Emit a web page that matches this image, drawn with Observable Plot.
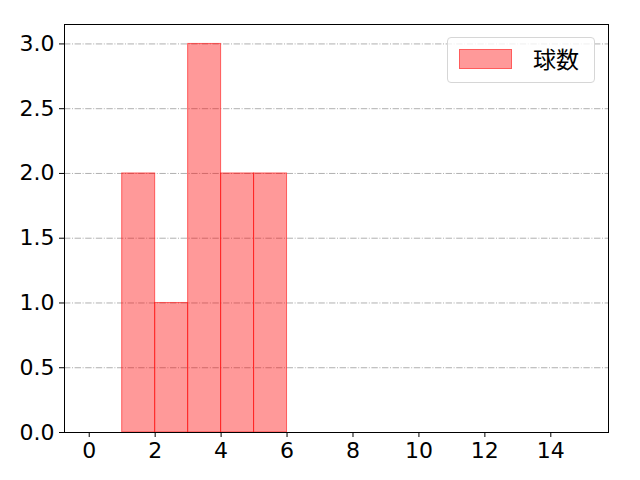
<!DOCTYPE html>
<html>
<head>
<meta charset="utf-8">
<script src="https://cdn.jsdelivr.net/npm/d3@7"></script>
<script src="https://cdn.jsdelivr.net/npm/@observablehq/plot@0.6"></script>
<style>
  html, body { margin: 0; padding: 0; background: #fff; }
  #wrap { position: relative; width: 640px; height: 480px; }
  #legend {
    position: absolute; left: 447px; top: 37px; width: 148px; height: 46px;
    border: 1px solid #d6d6d6; border-radius: 4px; background: rgba(255,255,255,0.8);
    box-sizing: border-box; font-family: "Noto Sans CJK JP", sans-serif; font-size: 23px;
  }
  #legend .sw { position: absolute; left: 11px; top: 11px; width: 53px; height: 20px;
    background: rgba(255,0,0,0.4); border: 1px solid rgba(255,0,0,0.4); box-sizing: border-box; }
  #legend .lb { position: absolute; left: 85px; top: 5px; line-height: 30px; color: #000; }
</style>
</head>
<body>
<div id="wrap"></div>
<script>
const seriesName = "球数";
const binStarts = [1, 2, 3, 4, 5];
const binEnds = [2, 3, 4, 5, 6];
const counts = [2, 1, 3, 2, 2];
const xTicks = [0, 2, 4, 6, 8, 10, 12, 14];
const yTicks = [0, 0.5, 1.0, 1.5, 2.0, 2.5, 3.0];

const bins = binStarts.map((s, i) => ({x1: s, x2: binEnds[i], y: counts[i]}));

const chart = Plot.plot({
  width: 640,
  height: 480,
  marginLeft: 64,
  marginRight: 32,
  marginTop: 24,
  marginBottom: 48,
  style: {fontFamily: "'DejaVu Sans', sans-serif", fontSize: "22px", color: "#000", background: "#fff"},
  x: {domain: [-0.75, 15.75], ticks: xTicks, tickFormat: d => String(d), label: null},
  y: {domain: [0, 3.15], ticks: yTicks, tickFormat: d3.format(".1f"), label: null},
  marks: [
    Plot.ruleY(yTicks.filter(d => d > 0), {stroke: "#b0b0b0", strokeWidth: 1, strokeDasharray: "6.4,1.6,1,1.6"}),
    Plot.rect(bins, {x1: "x1", x2: "x2", y1: 0, y2: "y", fill: "red", fillOpacity: 0.4, stroke: "red", strokeOpacity: 0.55, strokeWidth: 1, inset: 0}),
    Plot.frame({stroke: "#000", strokeWidth: 1}),
    Plot.axisX({ticks: xTicks, tickFormat: d => String(d), tickSize: 5, tickPadding: 5, fontSize: 22, label: null}),
    Plot.axisY({ticks: yTicks, tickFormat: d3.format(".1f"), tickSize: 5, tickPadding: 5, fontSize: 22, label: null})
  ]
});
const wrap = document.getElementById("wrap");
wrap.appendChild(chart);
const lg = document.createElement("div");
lg.id = "legend";
lg.innerHTML = '<div class="sw"></div><div class="lb"></div>';
lg.querySelector(".lb").textContent = seriesName;
wrap.appendChild(lg);
</script>
</body>
</html>
